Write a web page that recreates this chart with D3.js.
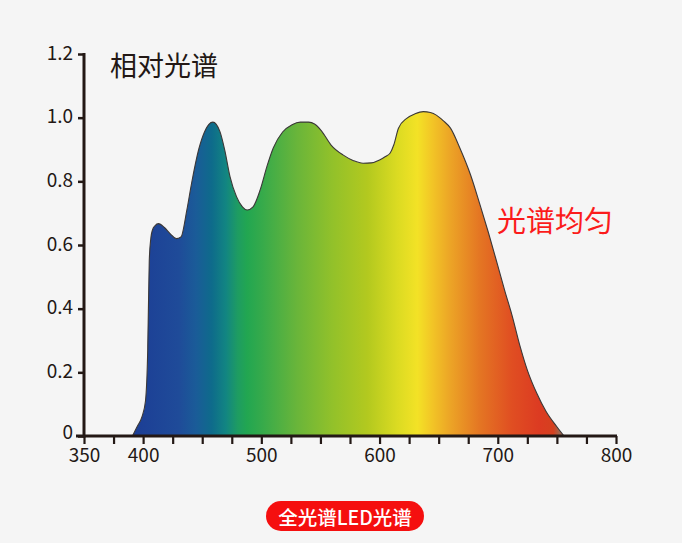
<!DOCTYPE html>
<html>
<head>
<meta charset="utf-8">
<script src="https://cdn.jsdelivr.net/npm/d3@7"></script>
<style>
  html, body { margin: 0; padding: 0; background: #f5f5f5; }
  svg { display: block; font-family: "Noto Sans CJK SC", "Noto Sans", sans-serif; }
</style>
</head>
<body>
<div id="chart"></div>
<script>
// spectrum samples (wavelength in nm, relative intensity)
const wavelengths = [391, 395, 399, 402, 403.9, 405.2, 406.5, 408, 410, 413, 418, 423, 428, 432, 437, 441, 447, 452, 459, 465, 469, 473.5, 479, 484, 488, 493, 499, 505, 510, 518, 526, 533, 540, 545, 551, 559, 569, 578, 586, 593, 600, 605, 609, 612, 616, 623, 630, 637, 643, 648, 654, 660, 668, 677, 685, 692, 700, 706, 712, 719, 725, 733, 741, 750, 756];
const intensity = [0, 0.03, 0.06, 0.11, 0.27, 0.55, 0.62, 0.648, 0.66, 0.667, 0.655, 0.635, 0.62, 0.625, 0.71, 0.794, 0.9, 0.956, 0.986, 0.956, 0.899, 0.815, 0.752, 0.72, 0.71, 0.72, 0.773, 0.85, 0.904, 0.955, 0.978, 0.986, 0.986, 0.98, 0.958, 0.914, 0.883, 0.865, 0.857, 0.858, 0.867, 0.878, 0.889, 0.914, 0.967, 0.998, 1.012, 1.019, 1.016, 1.008, 0.99, 0.967, 0.904, 0.82, 0.726, 0.64, 0.535, 0.455, 0.38, 0.28, 0.207, 0.134, 0.076, 0.029, 0];

const yTicks = [0, 0.2, 0.4, 0.6, 0.8, 1.0, 1.2];
const yTickLabels = ["0", "0.2", "0.4", "0.6", "0.8", "1.0", "1.2"];
const xTicks = d3.range(350, 801, 25);
const xLabelTicks = [350, 400, 500, 600, 700, 800];

// colour of the fill along the wavelength axis
const spectrumWl = [390, 430, 445, 458, 470, 480, 488, 500, 530, 560, 590, 615, 632, 645, 660, 685, 712, 735, 747, 752, 757];
const spectrumColors = ["#1c3d95", "#1f4b99", "#1a5c98", "#0e6b8b", "#128582", "#1e9c62", "#22a651", "#35aa4b", "#69b53a", "#92c12a", "#b3c91f", "#dbdb22", "#f3e226", "#f2c426", "#eca426", "#e47523", "#e04e22", "#dc3b22", "#d5401f", "#a0664e", "#8a6a5a"];

const title = "相对光谱";
const note = "光谱均匀";
const badge = "全光谱LED光谱";

const width = 682;
const height = 543;
const axisColor = "#231815";

const svg = d3.select("#chart").append("svg")
  .attr("width", width)
  .attr("height", height);

svg.append("rect").attr("width", width).attr("height", height).attr("fill", "#f5f5f5");

const x = d3.scaleLinear().domain([350, 800]).range([84, 616]);
const y = d3.scaleLinear().domain([0, 1.2]).range([436, 54]);

const data = wavelengths.map((w, i) => ({ w, v: intensity[i] }));

// gradient
const grad = svg.append("defs").append("linearGradient")
  .attr("id", "spectrum")
  .attr("gradientUnits", "userSpaceOnUse")
  .attr("x1", x(spectrumWl[0]))
  .attr("x2", x(spectrumWl[spectrumWl.length - 1]))
  .attr("y1", 0)
  .attr("y2", 0);
const wlSpan = spectrumWl[spectrumWl.length - 1] - spectrumWl[0];
spectrumWl.forEach((w, i) => {
  grad.append("stop")
    .attr("offset", (w - spectrumWl[0]) / wlSpan)
    .attr("stop-color", spectrumColors[i]);
});

const area = d3.area()
  .x((d) => x(d.w))
  .y0(y(0))
  .y1((d) => y(d.v))
  .curve(d3.curveMonotoneX);
const line = d3.line()
  .x((d) => x(d.w))
  .y((d) => y(d.v))
  .curve(d3.curveMonotoneX);

svg.append("path").datum(data).attr("d", area).attr("fill", "url(#spectrum)");
svg.append("path").datum(data).attr("d", line)
  .attr("fill", "none")
  .attr("stroke", "#3b3838")
  .attr("stroke-width", 1.1);

// y axis
const yAxis = d3.axisLeft(y).tickValues(yTicks).tickSize(6).tickPadding(5)
  .tickFormat((d, i) => yTickLabels[i]);
const yG = svg.append("g").attr("transform", `translate(${x(350)},0)`).call(yAxis);
yG.select(".domain").remove();
yG.selectAll(".tick line").attr("stroke", axisColor).attr("stroke-width", 2.5);
yG.selectAll(".tick text")
  .attr("fill", "#231815")
  .attr("font-size", 19)
  .attr("font-family", "'Noto Sans CJK SC', sans-serif")
  .attr("dy", (d) => (d === 0 ? "0.12em" : "0.28em"));
svg.append("line")
  .attr("x1", x(350)).attr("x2", x(350))
  .attr("y1", y(1.2) - 1).attr("y2", y(0) + 1.5)
  .attr("stroke", axisColor).attr("stroke-width", 3);

// x axis
const xAxis = d3.axisBottom(x).tickValues(xTicks).tickSize(8).tickPadding(5)
  .tickFormat((d) => (xLabelTicks.includes(d) ? d : ""));
const xG = svg.append("g").attr("transform", `translate(0,${y(0)})`).call(xAxis);
xG.select(".domain").remove();
xG.selectAll(".tick line").attr("stroke", axisColor).attr("stroke-width", 2.2);
xG.selectAll(".tick text")
  .attr("fill", "#231815")
  .attr("font-size", 19)
  .attr("font-family", "'Noto Sans CJK SC', sans-serif");
svg.append("line")
  .attr("x1", x(350) - 8).attr("x2", x(800) + 1)
  .attr("y1", y(0)).attr("y2", y(0))
  .attr("stroke", axisColor).attr("stroke-width", 3);

// labels
svg.append("text")
  .attr("x", 110).attr("y", 64)
  .attr("dominant-baseline", "central")
  .attr("font-size", 27)
  .attr("fill", "#231815")
  .text(title);

svg.append("text")
  .attr("x", 497).attr("y", 219)
  .attr("dominant-baseline", "central")
  .attr("font-size", 29)
  .attr("fill", "#fb1b1b")
  .text(note);

svg.append("rect")
  .attr("x", 266).attr("y", 501)
  .attr("width", 158).attr("height", 30)
  .attr("rx", 15)
  .attr("fill", "#f50f0f");
svg.append("text")
  .attr("x", 345).attr("y", 516)
  .attr("text-anchor", "middle")
  .attr("dominant-baseline", "central")
  .attr("font-size", 19.5)
  .attr("font-weight", 500)
  .attr("fill", "#ffffff")
  .text(badge);
</script>
</body>
</html>
